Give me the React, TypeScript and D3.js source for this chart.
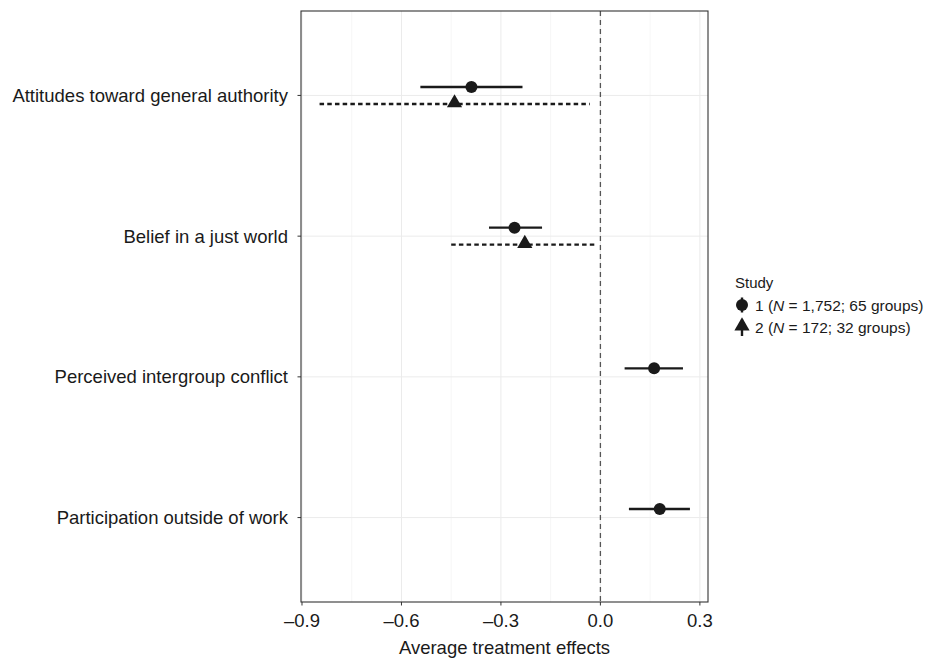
import React from 'react';
import * as d3 from 'd3';

// outcomes, top to bottom
const outcomes = [
  'Attitudes toward general authority',
  'Belief in a just world',
  'Perceived intergroup conflict',
  'Participation outside of work',
];

// study 1 (N = 1,752)
const s1Est = [-0.389, -0.259, 0.162, 0.179];
const s1Lo = [-0.543, -0.336, 0.073, 0.086];
const s1Hi = [-0.235, -0.176, 0.249, 0.27];

// study 2 (N = 172) - only first two outcomes
const s2Est = [-0.44, -0.228];
const s2Lo = [-0.847, -0.45];
const s2Hi = [-0.032, -0.012];

const xTicks = [-0.9, -0.6, -0.3, 0.0, 0.3];
const xMinor = [-0.75, -0.45, -0.15, 0.15];

const fmt = (v: number) => (v < 0 ? '\u2013' : '') + Math.abs(v).toFixed(1);

export default function App() {
  const W = 934, H = 658;
  const left = 301, right = 708, top = 11, bottom = 602;

  const x = d3.scaleLinear().domain([-0.903, 0.3245]).range([left, right]);
  const y = d3.scalePoint<string>().domain(outcomes).range([top, bottom]).padding(0.6);
  const dodge = 8.5;

  const font = 'Liberation Sans, Arial, Helvetica, sans-serif';
  const tri = d3.symbol().type(d3.symbolTriangle).size(100)();

  return (
    <svg width={W} height={H} style={{ position: 'absolute', left: 0, top: 0 }} fontFamily={font}>
      <rect x={0} y={0} width={W} height={H} fill="#fff" />
      {/* grid */}
      {xMinor.map(v => (
        <line key={'mn' + v} x1={x(v)} x2={x(v)} y1={top} y2={bottom} stroke="#f4f4f4" strokeWidth={0.8} />
      ))}
      {xTicks.map(v => (
        <line key={'mj' + v} x1={x(v)} x2={x(v)} y1={top} y2={bottom} stroke="#ebebeb" strokeWidth={1} />
      ))}
      {outcomes.map(o => (
        <line key={'gy' + o} x1={left} x2={right} y1={y(o)} y2={y(o)} stroke="#ebebeb" strokeWidth={1} />
      ))}
      {/* zero line */}
      <line x1={x(0)} x2={x(0)} y1={top} y2={bottom} stroke="#555" strokeWidth={1.3} strokeDasharray="5,4" />

      {/* study 1 */}
      {outcomes.map((o, i) => {
        const cy = (y(o) as number) - dodge;
        return (
          <g key={'s1' + i}>
            <line x1={x(s1Lo[i])} x2={x(s1Hi[i])} y1={cy} y2={cy} stroke="#1a1a1a" strokeWidth={2.4} />
            <circle cx={x(s1Est[i])} cy={cy} r={6} fill="#1a1a1a" />
          </g>
        );
      })}
      {/* study 2 */}
      {s2Est.map((v, i) => {
        const cy = (y(outcomes[i]) as number) + dodge;
        return (
          <g key={'s2' + i}>
            <line x1={x(s2Lo[i])} x2={x(s2Hi[i])} y1={cy} y2={cy} stroke="#1a1a1a" strokeWidth={2.4} strokeDasharray="4.5,3.2" />
            <path d={tri as string} transform={`translate(${x(v)},${cy - 1})`} fill="#1a1a1a" />
          </g>
        );
      })}

      {/* panel border */}
      <rect x={left} y={top} width={right - left} height={bottom - top} fill="none" stroke="#333" strokeWidth={1.1} />

      {/* y axis */}
      {outcomes.map(o => (
        <g key={'yl' + o}>
          <line x1={left - 3.5} x2={left} y1={y(o)} y2={y(o)} stroke="#333" strokeWidth={1} />
          <text x={left - 13} y={(y(o) as number) + 6.5} textAnchor="end" fontSize={18.5} fill="#1a1a1a">{o}</text>
        </g>
      ))}
      {/* x axis */}
      {xTicks.map(v => (
        <g key={'xt' + v}>
          <line x1={x(v)} x2={x(v)} y1={bottom} y2={bottom + 3.5} stroke="#333" strokeWidth={1} />
          <text x={x(v)} y={627} textAnchor="middle" fontSize={18.5} fill="#1a1a1a">{fmt(v)}</text>
        </g>
      ))}
      <text x={(left + right) / 2} y={654} textAnchor="middle" fontSize={18.5} fill="#1a1a1a">Average treatment effects</text>

      {/* legend */}
      <g fontSize={15.5} fill="#1a1a1a">
        <text x={735} y={288} fontSize={15}>Study</text>
        <g transform="translate(742,305)">
          <line x1={0} x2={0} y1={-7.5} y2={7.5} stroke="#1a1a1a" strokeWidth={2.4} />
          <circle cx={0} cy={0} r={6} fill="#1a1a1a" />
          <text x={13} y={5.5}>1 (<tspan fontStyle="italic">N</tspan> = 1,752; 65 groups)</text>
        </g>
        <g transform="translate(742,327)">
          <line x1={0} x2={0} y1={-7.5} y2={9} stroke="#1a1a1a" strokeWidth={2.4} />
          <path d={tri as string} transform="translate(0,-1)" fill="#1a1a1a" />
          <text x={13} y={5.5}>2 (<tspan fontStyle="italic">N</tspan> = 172; 32 groups)</text>
        </g>
      </g>
    </svg>
  );
}
